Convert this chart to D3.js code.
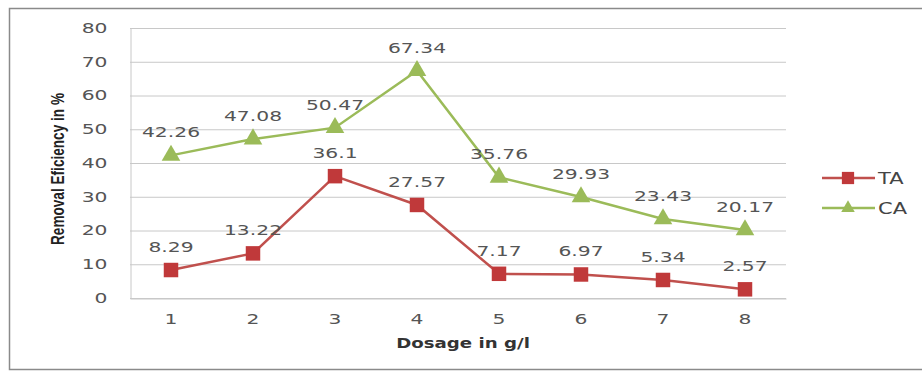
<!DOCTYPE html>
<html>
<head>
<meta charset="utf-8">
<script src="https://cdn.jsdelivr.net/npm/d3@7"></script>
<style>
  html, body { margin: 0; padding: 0; background: #fff; }
  svg { display: block; }
</style>
</head>
<body>
<svg id="chart" width="922" height="371"></svg>
<script>
// Dosage levels (g/l) and removal efficiency (%) for each adsorbent
const dosages = [1, 2, 3, 4, 5, 6, 7, 8];
const taValues = [8.29, 13.22, 36.1, 27.57, 7.17, 6.97, 5.34, 2.57];
const caValues = [42.26, 47.08, 50.47, 67.34, 35.76, 29.93, 23.43, 20.17];
const yTicks = [0, 10, 20, 30, 40, 50, 60, 70, 80];
const seriesNames = ["TA", "CA"];

const svg = d3.select("#chart");
const W = 922, H = 371;
const plot = { left: 130, right: 786, top: 28, bottom: 298 };
const FONT = "'DejaVu Sans', Verdana, sans-serif";
const SX = 1.45; // wide, stretched label lettering

// Outer chart frame
svg.append("rect")
  .attr("x", 9.5).attr("y", 8.5)
  .attr("width", W + 10).attr("height", H - 10)
  .attr("fill", "#fff")
  .attr("stroke", "#8a8a8a").attr("stroke-width", 1.5);

const x = d3.scaleBand().domain(dosages).range([plot.left, plot.right]).padding(0);
const y = d3.scaleLinear().domain([0, 80]).range([plot.bottom, plot.top]);
const cx = d => x(d) + x.bandwidth() / 2;

// Horizontal gridlines
svg.append("g")
  .selectAll("line")
  .data(yTicks)
  .join("line")
  .attr("x1", plot.left).attr("x2", plot.right)
  .attr("y1", d => y(d) + 0.5).attr("y2", d => y(d) + 0.5)
  .attr("stroke", "#c8c8c8").attr("stroke-width", 1);

// Y axis
const yPad = 23;
const yAxis = svg.append("g")
  .attr("transform", `translate(${plot.left + 0.5},0)`)
  .call(d3.axisLeft(y).tickValues(yTicks).tickSize(0).tickPadding(yPad));
yAxis.select(".domain").attr("stroke", "#c8c8c8");
yAxis.selectAll("text")
  .attr("font-family", FONT)
  .attr("font-size", 14).attr("fill", "#555")
  .attr("x", -yPad / SX)
  .attr("transform", `scale(${SX},1)`);

// X axis
const xAxis = svg.append("g")
  .attr("transform", `translate(0,${plot.bottom + 0.5})`)
  .call(d3.axisBottom(x).tickSize(0).tickPadding(16));
xAxis.select(".domain").attr("stroke", "#c8c8c8");
xAxis.selectAll("text")
  .attr("font-family", FONT)
  .attr("font-size", 14).attr("fill", "#555")
  .attr("transform", `scale(${SX},1)`);

// Axis titles
svg.append("text")
  .attr("transform", `translate(${(plot.left + plot.right) / 2 + 5},348) scale(1.3,1)`)
  .attr("text-anchor", "middle")
  .attr("font-family", FONT)
  .attr("font-size", 14).attr("font-weight", "bold").attr("fill", "#333")
  .text("Dosage in g/l");

svg.append("text")
  .attr("transform", `translate(64,169) rotate(-90)`)
  .attr("text-anchor", "middle")
  .attr("font-family", "'Liberation Sans Narrow', 'Liberation Sans', Arial, sans-serif")
  .attr("font-size", 19).attr("font-weight", "bold").attr("fill", "#222")
  .attr("textLength", 152).attr("lengthAdjust", "spacingAndGlyphs")
  .text("Removal Eficiency in %");

const series = [
  { name: seriesNames[0], values: taValues, color: "#c0504d", marker: "#c0393a", shape: "square" },
  { name: seriesNames[1], values: caValues, color: "#9bbb59", marker: "#9bbb59", shape: "triangle" }
];

const line = d3.line().x((d, i) => cx(dosages[i])).y(d => y(d));
const sq = d3.symbol().type(d3.symbolSquare).size(210);
const tri = d3.symbol().type(d3.symbolTriangle).size(150);

series.forEach(s => {
  const g = svg.append("g");
  g.append("path")
    .attr("d", line(s.values))
    .attr("fill", "none").attr("stroke", s.color).attr("stroke-width", 2.5);
  g.selectAll("path.mk")
    .data(s.values)
    .join("path")
    .attr("class", "mk")
    .attr("transform", (d, i) => `translate(${cx(dosages[i])},${y(d)})`)
    .attr("d", s.shape === "square" ? sq : tri)
    .attr("fill", s.marker);
  g.selectAll("text")
    .data(s.values)
    .join("text")
    .attr("transform", (d, i) => `translate(${cx(dosages[i])},${y(d) - 18}) scale(${SX},1)`)
    .attr("text-anchor", "middle")
    .attr("font-family", FONT)
    .attr("font-size", 14).attr("fill", "#555")
    .text(d => d);
});

// Legend
const legend = svg.append("g");
series.forEach((s, i) => {
  const ly = 178 + i * 30;
  legend.append("line")
    .attr("x1", 822).attr("x2", 875)
    .attr("y1", ly).attr("y2", ly)
    .attr("stroke", s.color).attr("stroke-width", 2.5);
  legend.append("path")
    .attr("transform", `translate(848,${ly})`)
    .attr("d", s.shape === "square" ? d3.symbol().type(d3.symbolSquare).size(150) : d3.symbol().type(d3.symbolTriangle).size(80))
    .attr("fill", s.marker);
  legend.append("text")
    .attr("transform", `translate(878,${ly + 6}) scale(1.4,1)`)
    .attr("font-family", FONT)
    .attr("font-size", 15).attr("fill", "#444")
    .text(s.name);
});
</script>
</body>
</html>
